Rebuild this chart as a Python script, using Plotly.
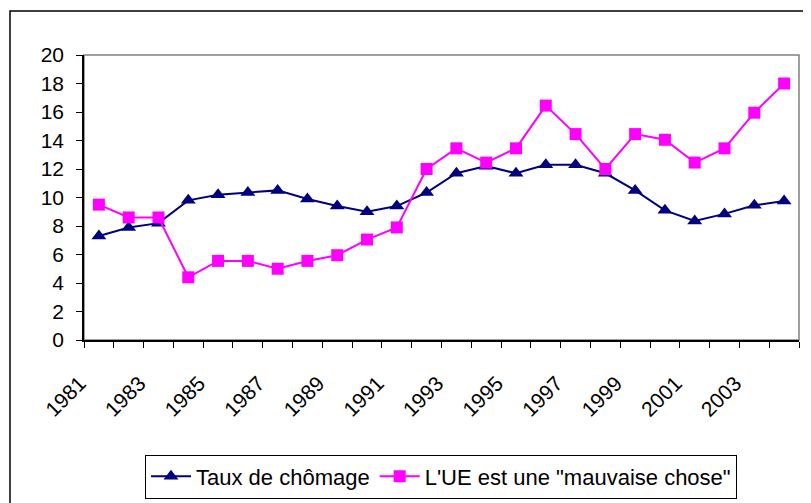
import plotly.graph_objects as go

years = [str(y) for y in range(1981, 2005)]
tick_labels = [y if int(y) % 2 == 1 else "" for y in years]
chomage = [7.3, 7.9, 8.2, 9.8, 10.2, 10.35, 10.5, 9.9, 9.4, 9.0, 9.4, 10.35,
           11.7, 12.2, 11.7, 12.3, 12.3, 11.7, 10.5, 9.1, 8.35, 8.85, 9.45, 9.75]
ue_mauvaise = [9.5, 8.6, 8.6, 4.4, 5.55, 5.55, 5.0, 5.55, 5.95, 7.05, 7.9, 12.0,
               13.45, 12.45, 13.45, 16.45, 14.45, 12.0, 14.45, 14.05, 12.45, 13.45, 15.95, 18.0]

FONT = "Liberation Sans, Arial, sans-serif"

fig = go.Figure()
fig.add_trace(go.Scatter(
    x=years, y=chomage, name="Taux de chômage", mode="lines+markers",
    line=dict(color="#000080", width=2),
    marker=dict(symbol="triangle-up", size=13, color="#000080"),
))
fig.add_trace(go.Scatter(
    x=years, y=ue_mauvaise, name="L'UE est une \"mauvaise chose\"", mode="lines+markers",
    line=dict(color="#FF00FF", width=2),
    marker=dict(symbol="square", size=12, color="#FF00FF"),
))

# plot-area border (grey top/right)
fig.add_shape(type="rect", xref="paper", yref="paper", x0=0, x1=1, y0=0, y1=1,
              line=dict(color="#808080", width=1.5), layer="below")
# chart-area outer border
fig.add_shape(type="rect", xref="paper", yref="paper", x0=-0.1035, x1=1.05,
              y0=-0.7, y1=1.1544, line=dict(color="#000000", width=1.5), layer="below")

fig.update_layout(
    width=803, height=495,
    margin=dict(l=76, r=12, t=47, b=163, autoexpand=False),
    paper_bgcolor="white", plot_bgcolor="white",
    font=dict(family=FONT, size=20, color="black"),
    showlegend=True,
    legend=dict(
        orientation="h", x=0.4993, xanchor="center", y=-0.479, yanchor="middle",
        bordercolor="black", borderwidth=1, font=dict(size=22),
        itemwidth=40,
    ),
    xaxis=dict(
        type="category", tickmode="array", tickvals=years, ticktext=tick_labels,
        range=[-0.5, 23.5], automargin=False,
        tickson="boundaries", ticks="outside", ticklen=6, tickcolor="black",
        showline=True, linecolor="black", linewidth=1.5, showgrid=False,
        tickangle=-45, tickfont=dict(size=21), ticklabelstandoff=21,
        ticklabelshift=-19, zeroline=False,
    ),
    yaxis=dict(
        range=[0, 20], dtick=2, ticks="outside", ticklen=6, tickcolor="black",
        showline=True, linecolor="black", linewidth=1.5, showgrid=False,
        zeroline=False, tickfont=dict(size=21), ticklabelstandoff=8, automargin=False,
    ),
)

fig.write_html("out.html")
